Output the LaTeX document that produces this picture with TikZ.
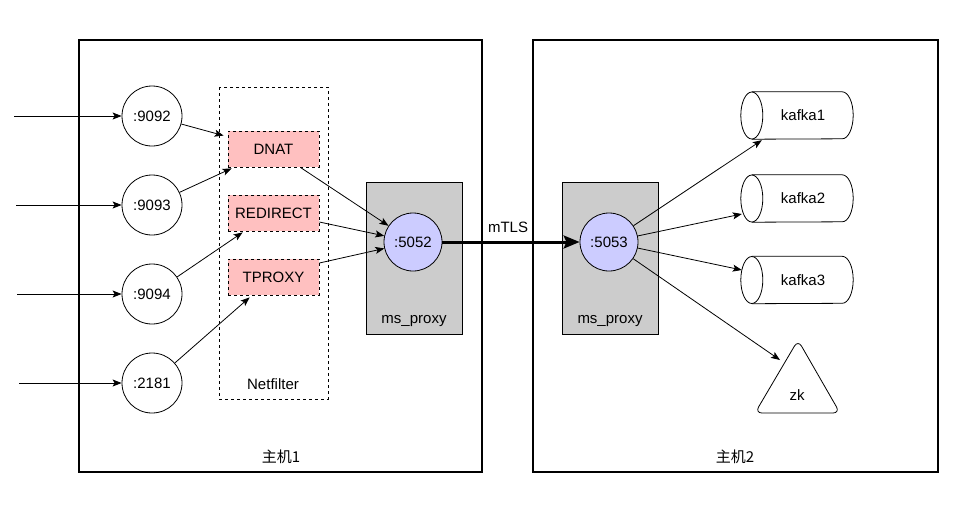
\documentclass[tikz,border=0pt]{standalone}
\usepackage{fontspec}
\setmainfont{Liberation Sans}
\newfontfamily\cjk{Noto Sans CJK SC}
\usetikzlibrary{arrows.meta,calc}
\definecolor{pinkc}{HTML}{FFC0C0}
\definecolor{bluec}{HTML}{CCCCFF}
\definecolor{grayc}{HTML}{CCCCCC}
\begin{document}
\begin{tikzpicture}[x=1pt,y=-1pt,
  every node/.style={font=\fontsize{15}{18}\selectfont, inner sep=0pt},
  host/.style={draw, line width=2pt},
  nfbox/.style={draw, dashed, line width=0.8pt},
  proxybox/.style={draw, fill=grayc, line width=0.8pt},
  port/.style={circle, draw, minimum size=60pt, fill=white, line width=0.8pt},
  pport/.style={circle, draw, minimum size=58pt, fill=bluec, line width=0.8pt},
  rulebox/.style={draw, dashed, fill=pinkc, minimum width=91pt, minimum height=36pt, line width=0.8pt},
  dbbox/.style={draw=none, minimum width=112pt, minimum height=47pt},
  arr/.style={-{Stealth[length=9pt,width=7pt,inset=2pt]}, line width=0.8pt},
  bigarr/.style={-{Stealth[length=16pt,width=13pt,inset=3pt]}, line width=3pt}
]
\useasboundingbox (0,0) rectangle (976,515);

% host boxes
\draw[host] (79,40) rectangle (482,472);
\draw[host] (533,40) rectangle (938,472);
\node (h1) at (281,457) {\cjk 主机1};
\node (h2) at (735,457) {\cjk 主机2};

% netfilter box
\draw[nfbox] (219,87) rectangle (328,399);
\node (nf) at (273,384) {Netfilter};

% proxy boxes
\draw[proxybox] (366,182) rectangle (462,334);
\draw[proxybox] (562,182) rectangle (658,334);
\node (mp1) at (414,321) {ms\_proxy};
\node (mp2) at (610,321) {ms\_proxy};

% ports
\node[port] (c9092) at (152,116) {:9092};
\node[port] (c9093) at (152,205) {:9093};
\node[port] (c9094) at (152,294) {:9094};
\node[port] (c2181) at (152,383) {:2181};

% rules
\node[rulebox] (dnat) at (273.5,149) {DNAT};
\node[rulebox] (redir) at (273.5,213) {REDIRECT};
\node[rulebox] (tproxy) at (273.5,277) {TPROXY};

% proxy ports
\node[pport] (p5052) at (413,242) {:5052};
\node[pport] (p5053) at (609,242) {:5053};

% kafka cylinders
\foreach \n/\y in {k1/115.5, k2/198.5, k3/280}{
  \node[dbbox] (\n) at (797,\y) {};
  \draw[line width=0.8pt, fill=white] ([xshift=11pt]\n.north west) -- ([xshift=-11pt]\n.north east)
     arc[start angle=90, end angle=-90, x radius=11pt, y radius=23.5pt]
     -- ([xshift=11pt]\n.south west);
  \draw[line width=0.8pt, fill=white] ([xshift=11pt]\n.west) ellipse[x radius=11pt, y radius=23.5pt];
}
\node at (803,115.5) {kafka1};
\node at (803,198.5) {kafka2};
\node at (803,280) {kafka3};

% zk triangle
\draw[line width=0.8pt, rounded corners=7pt] (798,340) -- (840,413) -- (755,413) -- cycle;
\node (zk) at (797,395) {zk};
\coordinate (zkin) at (780,360);

% incoming
\coordinate (in1) at (14,116);
\coordinate (in2) at (16,205);
\coordinate (in3) at (17,294);
\coordinate (in4) at (19,383);
\draw[arr] (in1) -- (c9092);
\draw[arr] (in2) -- (c9093);
\draw[arr] (in3) -- (c9094);
\draw[arr] (in4) -- (c2181);

% to rules
\draw[arr] (c9092) -- ($(dnat.north west)+(-4,5)$);
\draw[arr] (c9093) -- ($(dnat.south west)+(4,1)$);
\draw[arr] (c9094) -- ($(redir.south west)+(15,1)$);
\draw[arr] (c2181) -- ($(tproxy.south west)+(22,2)$);

% rules to proxy
\draw[arr] ($(dnat.south east)+(-19,0)$) -- (p5052);
\draw[arr] ($(redir.east)+(0,9)$) -- (p5052);
\draw[arr] ($(tproxy.east)+(0,-14)$) -- (p5052);

% mTLS
\draw[bigarr] (p5052) -- (p5053);
\node (mtls) at (508,227) {mTLS};

% to backends
\draw[arr] (p5053) -- ($(k1.south west)+(21,1)$);
\draw[arr] (p5053) -- ($(k2.west)+(1,15.5)$);
\draw[arr] (p5053) -- ($(k3.west)+(1,-10)$);
\draw[arr] (p5053) -- (zkin);
\end{tikzpicture}
\end{document}
